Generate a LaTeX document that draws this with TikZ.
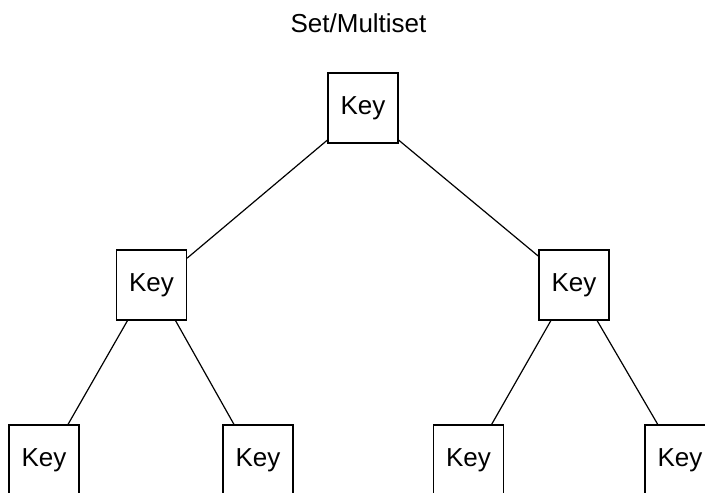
\documentclass[tikz,border=0pt]{standalone}
\usepackage{fontspec}
\setmainfont{Liberation Sans}
\usetikzlibrary{positioning}

\begin{document}
\begin{tikzpicture}[
	x=1pt, y=-1pt,
	keybox/.style={rectangle, draw, line width=1.3pt, minimum width=70pt, minimum height=70pt, inner sep=0pt, font=\fontsize{26}{30}\selectfont},
	edge/.style={draw, line width=1.2pt}
	]
	\useasboundingbox (0,0) rectangle (705,493);
	
	\node[anchor=base, font=\fontsize{26}{30}\selectfont] (title) at (358.5,32) {Set/Multiset};
	
	\node[keybox] (root) at (363,108) {Key};
	\node[keybox] (left) at (151.5,285) {Key};
	\node[keybox] (right) at (574,285) {Key};
	
	\node[keybox] (leftleft) at (44,460) {Key};
	\node[keybox] (leftright) at (258,460) {\raisebox{-2pt}{Key}};
	\node[keybox] (rightleft) at (468.5,460) {Key};
	\node[keybox] (rightright) at (680,460) {Key};
	
	\draw[edge] (root.222) -- (left.37);
	\draw[edge] (root.318) -- (right.141);
	\draw[edge] (left.236) -- (leftleft.56);
	\draw[edge] (left.304) -- (leftright.124);
	\draw[edge] (right.237) -- (rightleft.57);
	\draw[edge] (right.303) -- (rightright.122);
\end{tikzpicture}
\end{document}
